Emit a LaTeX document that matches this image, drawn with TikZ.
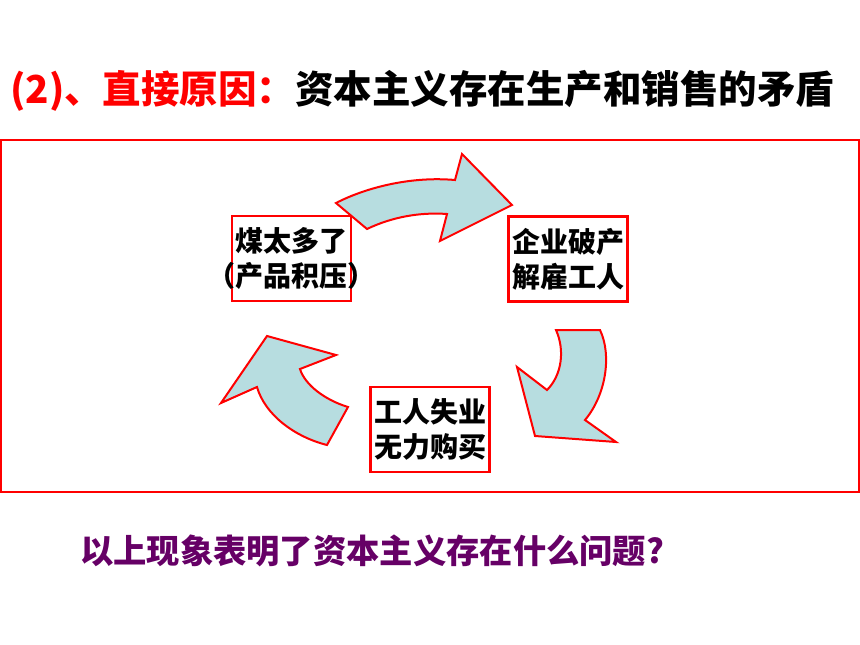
\documentclass[tikz,border=0pt]{standalone}
\usepackage{fontspec}
\newfontfamily\cjk{Noto Sans CJK SC}
\usetikzlibrary{positioning}
\definecolor{boxred}{RGB}{255,0,0}
\definecolor{arrowfill}{RGB}{183,221,224}
\definecolor{askpurple}{RGB}{102,0,102}
\tikzset{
	cellbox/.style={
		rectangle,
		draw=boxred, line width=2.4pt,
		minimum width=119pt,
		minimum height=85pt,
		inner sep=0pt},
	celltext/.style={
		align=center,
		font=\cjk\bfseries\fontsize{28}{35}\selectfont,
		inner sep=0pt},
	bendarrow/.style={fill=arrowfill, draw=boxred, line width=2pt, line join=miter},
}
\begin{document}
\begin{tikzpicture}[x=1pt,y=-1pt]
		\useasboundingbox (0,0) rectangle (860,645);
		% title
		\node[anchor=west, inner sep=0pt, font=\cjk\bfseries\fontsize{38.5}{40}\selectfont] (title) at (10,91)
			{\textcolor{boxred}{(2)、直接原因：}资本主义存在生产和销售的矛盾};
		% frame
		\draw[boxred, line width=2pt] (1,140) rectangle (859,492);
		% boxes
		\node[cellbox] (coal) at (291.5,258.5) {};
		\node[celltext] at (coal) {煤太多了\\（产品积压）};
		\node[cellbox] (firm) at (568,259) {};
		\node[celltext] at (firm) {企业破产\\解雇工人};
		\node[cellbox] (jobs) at (430,429.5) {};
		\node[celltext] at (jobs) {工人失业\\无力购买};
		% bent arrows
		\draw[bendarrow] (336,203) .. controls (365,188) and (410,176) .. (455,180)
			-- (462,154) -- (512,205) -- (440,241) -- (447,214)
			.. controls (420,212) and (392,217) .. (367,229) -- cycle;
		\draw[bendarrow] (556,330) -- (600,330) .. controls (612,355) and (606,395) .. (585,420)
			-- (616,442) -- (535,436) -- (517,367) -- (547,390)
			.. controls (562,375) and (565,350) .. cycle;
		\draw[bendarrow] (327,445) -- (348,407) .. controls (325,400) and (305,385) .. (300,369)
			-- (336,355) -- (267,336) -- (221,403) -- (257,387)
			.. controls (265,415) and (295,437) .. cycle;
		% question
		\node[anchor=west, inner sep=0pt, text=askpurple, font=\cjk\bfseries\fontsize{33.3}{36}\selectfont] (ask) at (80,551)
			{以上现象表明了资本主义存在什么问题?};
		\end{tikzpicture}
\end{document}
